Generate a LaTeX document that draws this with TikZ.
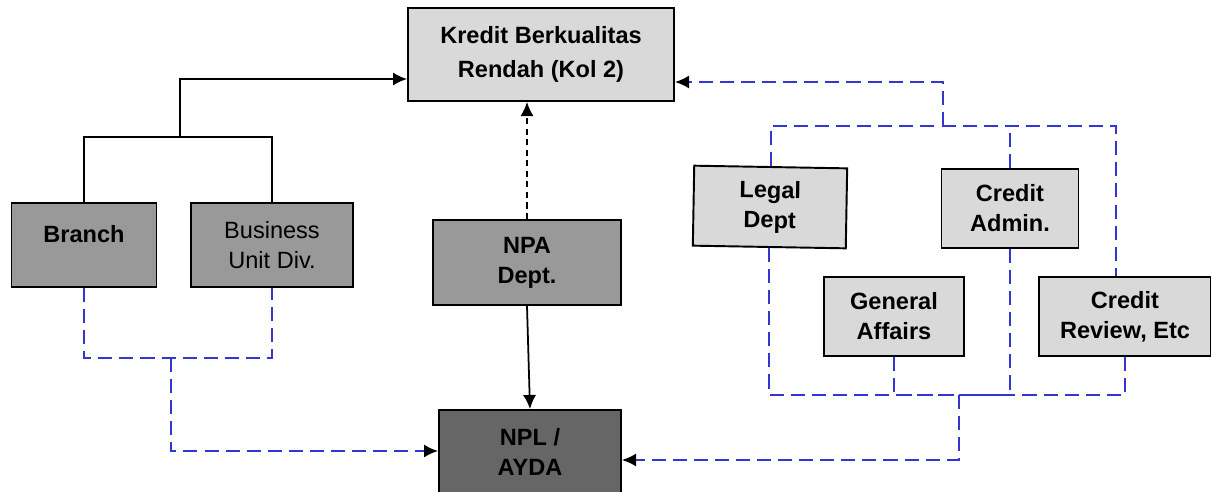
\documentclass[tikz,border=0pt]{standalone}
\usepackage{fontspec}
\setmainfont{Liberation Sans}
\usetikzlibrary{arrows.meta}
\definecolor{boxlight}{HTML}{D9D9D9}
\definecolor{boxmid}{HTML}{999999}
\definecolor{boxdark}{HTML}{666666}
\definecolor{linkblue}{HTML}{3535CF}
\begin{document}
\begin{tikzpicture}[x=0.02cm, y=-0.02cm]
\tikzset{ >={Latex[length=8pt,width=7.5pt,black]}, inner sep=0pt,
  unit/.style={draw, line width=1.1pt, align=center, font=\fontsize{13.4}{17}\selectfont\bfseries},
  light/.style={unit, fill=boxlight},
  mid/.style={unit, fill=boxmid},
  dark/.style={unit, fill=boxdark},
  solidlink/.style={line width=1pt},
  bluelink/.style={linkblue, line width=1.2pt, dash pattern=on 8pt off 4pt},
}

%\draw [lightgray, dashed](0,0) grid[step=50] (1211,491);
\useasboundingbox (0,0) rectangle (1211,491);

\node [light, minimum width=5.32cm, minimum height=1.86cm, font=\fontsize{13.4}{19}\selectfont\bfseries] (kredit) at (541,54.5) {Kredit Berkualitas\\Rendah (Kol 2)};

\node [mid, minimum width=2.9cm, minimum height=1.68cm, text depth=12pt] (branch) at (84,245) {Branch};
\node [mid, minimum width=3.24cm, minimum height=1.68cm, font=\fontsize{13.4}{17}\selectfont] (bud) at (272,245) {Business\\Unit Div.};
\node [mid, minimum width=3.76cm, minimum height=1.7cm] (npa) at (527,262.5) {NPA\\Dept.};
\node [dark, minimum width=3.64cm, minimum height=1.68cm] (npl) at (530,452) {NPL /\\AYDA};

\node [light, minimum width=3.06cm, minimum height=1.6cm, rotate=-1] (legal) at (770,207) {Legal\\Dept};
\node [light, minimum width=2.74cm, minimum height=1.58cm] (cadmin) at (1010,208.5) {Credit\\Admin.};
\node [light, minimum width=2.8cm, minimum height=1.58cm] (genaff) at (894,316.5) {General\\Affairs};
\node [light, minimum width=3.44cm, minimum height=1.58cm] (crev) at (1125,316.5) {Credit\\Review, Etc};

% black links
\coordinate (jtop) at (180,137);
\draw [solidlink] (branch.north) |- (jtop) -| (bud.north);
\draw [solidlink, ->] (jtop) |- (kredit.west |- 0,79);
\draw [solidlink, ->, dash pattern=on 3.5pt off 2.5pt] (npa.north) -- (npa.north |- kredit.south);
\draw [solidlink, ->] (npa.south) -- (npl.north);

% blue links, left
\coordinate (jleft) at (171,358);
\draw [bluelink] (branch.south) |- (jleft) -| (bud.south);
\draw [bluelink, ->] (jleft) |- (npl.west |- 0,451);

% blue links, right
\coordinate (jup) at (943,126);
\coordinate (jupr) at (1116,126);
\coordinate (jlow) at (959,395);
\draw [bluelink, ->] (jup) |- (kredit.east |- 0,82);
\draw [bluelink] (legal.north) |- (jup) -- (jupr) -- (jupr |- crev.north);
\draw [bluelink] (cadmin.north) -- (cadmin.north |- jup);
\draw [bluelink] (legal.south) |- (jlow);
\draw [bluelink] (genaff.south) |- (jlow);
\draw [bluelink] (cadmin.south) |- (jlow);
\draw [bluelink] (crev.south) |- (jlow);
\draw [bluelink, ->] (jlow) |- (npl.east |- 0,460);

\end{tikzpicture}
\end{document}
